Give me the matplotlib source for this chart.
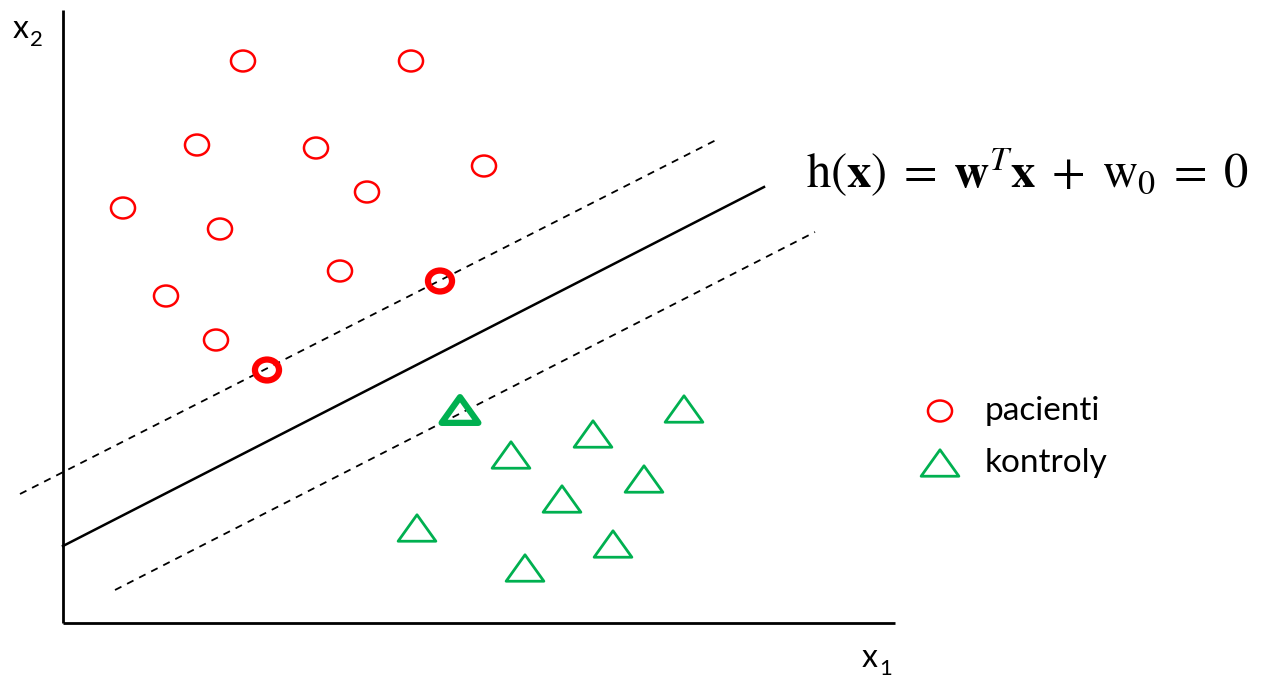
import matplotlib
matplotlib.use("Agg")
import matplotlib.pyplot as plt
from matplotlib.path import Path

W, H = 1264, 679
# pixel-space positions
pacienti_x = [243, 411, 197, 316, 484, 367, 123, 220, 340, 166, 216]
pacienti_y = [61, 61, 145, 148, 166, 192, 208, 229, 271, 296, 340]
sv_pac_x = [440, 267]
sv_pac_y = [281, 370]
kontroly_x = [511, 593, 684, 644, 562, 417, 613, 525]
kontroly_y = [455, 434, 409, 479, 499, 528, 544, 568]
sv_kon_x = [460]
sv_kon_y = [410]
hyper_x = [63, 764]
hyper_y = [546, 187]
upper_x = [20, 720]
upper_y = [494, 138]
lower_x = [115, 815]
lower_y = [590, 232]
legend_labels = ["pacienti", "kontroly"]
equation = r"$\mathrm{h}(\mathbf{x})\;=\;\mathbf{w}^{T}\mathbf{x}\;+\;\mathrm{w}_{0}\;=\;0$"

RED = "#ff0000"
GREEN = "#00b050"

tri = Path([(0, 0.7), (-1, -0.7), (1, -0.7), (0, 0.7)],
           [Path.MOVETO, Path.LINETO, Path.LINETO, Path.CLOSEPOLY])
ell = Path.unit_circle().transformed(matplotlib.transforms.Affine2D().scale(1.0, 0.87))

plt.rcParams["mathtext.fontset"] = "stix"
fig = plt.figure(figsize=(W / 100, H / 100), dpi=100)
ax = fig.add_axes([0, 0, 1, 1])
ax.set_xlim(0, W)
ax.set_ylim(H, 0)
ax.axis("off")

# axes (plain lines)
ax.plot([63, 63], [10, 623], color="black", lw=2, solid_capstyle="butt")
ax.plot([63, 895], [623, 623], color="black", lw=2, solid_capstyle="butt")

ax.plot(hyper_x, hyper_y, color="black", lw=1.8)
ax.plot(upper_x, upper_y, color="black", lw=1.3, dashes=(4, 3.5))
ax.plot(lower_x, lower_y, color="black", lw=1.3, dashes=(4, 3.5))

ax.scatter(pacienti_x, pacienti_y, s=300, marker=ell, facecolors="none",
           edgecolors=RED, linewidths=1.8, zorder=3)
ax.scatter(sv_pac_x, sv_pac_y, s=300, marker=ell, facecolors="none",
           edgecolors=RED, linewidths=4.5, zorder=3)
ax.scatter(kontroly_x, kontroly_y, s=740, marker=tri, facecolors="none",
           edgecolors=GREEN, linewidths=2.0, zorder=3)
ax.scatter(sv_kon_x, sv_kon_y, s=700, marker=tri, facecolors="none",
           edgecolors=GREEN, linewidths=4.5, zorder=3)

# legend
ax.scatter([940], [411], s=300, marker=ell, facecolors="none", edgecolors=RED, linewidths=1.8)
ax.scatter([940], [463], s=740, marker=tri, facecolors="none", edgecolors=GREEN, linewidths=2.0)
txtfam = ["Lato", "DejaVu Sans"]
ax.text(985, 411, legend_labels[0], fontsize=24, family=txtfam, va="center", ha="left")
ax.text(985, 463, legend_labels[1], fontsize=24, family=txtfam, va="center", ha="left")

# axis labels
ax.text(13, 38, "x", fontsize=23, family=txtfam, va="baseline", ha="left")
ax.text(30, 46, "2", fontsize=16, family=txtfam, va="baseline", ha="left")
ax.text(862, 667, "x", fontsize=23, family=txtfam, va="baseline", ha="left")
ax.text(879, 675, "1", fontsize=16, family=txtfam, va="baseline", ha="left")

ax.text(806, 172, equation, fontsize=35, va="center", ha="left")

fig.savefig("out.png", dpi=100)
